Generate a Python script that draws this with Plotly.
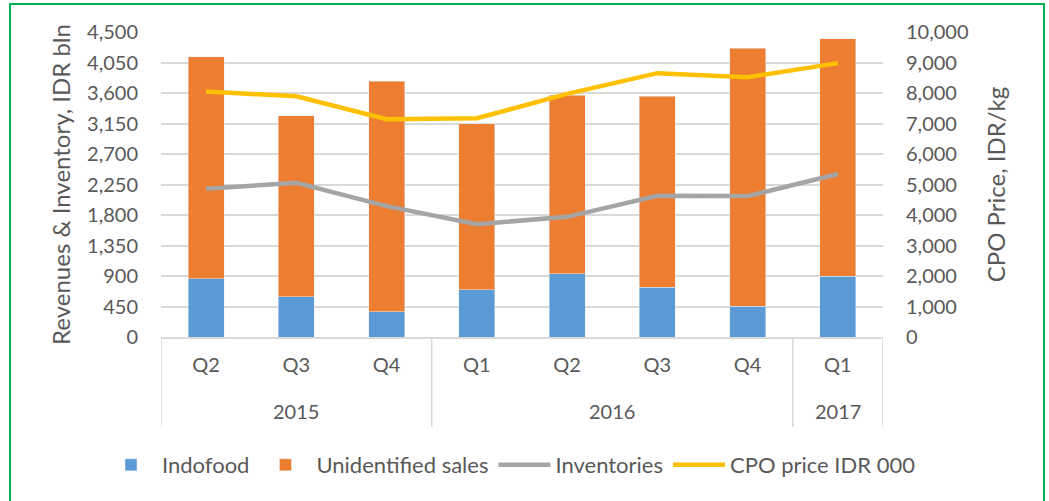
import plotly.graph_objects as go

years = ["2015", "2015", "2015", "2016", "2016", "2016", "2016", "2017"]
quarters = ["Q2", "Q3", "Q4", "Q1", "Q2", "Q3", "Q4", "Q1"]
indofood = [861, 595, 370, 698, 930, 733, 456, 900]
total_revenue = [4132, 3268, 3776, 3145, 3570, 3555, 4260, 4399]
unidentified = [t - i for t, i in zip(total_revenue, indofood)]
inventories = [2188, 2276, 1931, 1665, 1773, 2084, 2079, 2405]
cpo_price = [8047, 7895, 7139, 7172, 7971, 8651, 8520, 8980]

FONT = "Lato, Carlito, Calibri, sans-serif"
TXT = "#595959"
GRID = "#d9d9d9"
W, H = 1049, 501
ML, MR, MT, MB = 161, 166, 32, 164
pw = W - ML - MR
ph = H - MT - MB

labels = [f"{q} {y}" for q, y in zip(quarters, years)]

fig = go.Figure()
fig.add_trace(go.Bar(x=labels, y=indofood, name="Indofood", marker_color="#5B9BD5"))
fig.add_trace(go.Bar(x=labels, y=unidentified, name="Unidentified sales", marker_color="#ED7D31"))
fig.add_trace(go.Scatter(x=labels, y=inventories, name="Inventories", mode="lines",
                         line=dict(color="#A5A5A5", width=4.5)))
fig.add_trace(go.Scatter(x=labels, y=cpo_price, name="CPO price IDR 000", mode="lines",
                         line=dict(color="#FFC000", width=4.5), yaxis="y2"))

# year groups: dividers and centered year labels
groups = []
for i, y in enumerate(years):
    if groups and groups[-1][0] == y:
        groups[-1][2] = i
    else:
        groups.append([y, i, i])

def py(pix):  # pixel y from top -> paper y
    return (H - MB - pix) / ph

def px(pix):
    return (pix - ML) / pw

bounds = sorted({g[1] - 0.5 for g in groups} | {g[2] + 0.5 for g in groups})
for b in bounds:
    fig.add_shape(type="line", xref="x", yref="paper", x0=b, x1=b,
                  y0=0, y1=py(427), line=dict(color=GRID, width=1.5))
for y, a, b in groups:
    fig.add_annotation(x=(a + b) / 2, xref="x", y=py(411), yref="paper",
                       text=y, showarrow=False, yanchor="middle",
                       font=dict(size=20, color=TXT, family=FONT))

# green frame
fig.add_shape(type="rect", xref="paper", yref="paper",
              x0=px(10), x1=px(1044), y0=py(520), y1=py(4),
              line=dict(color="#00B050", width=2), fillcolor="rgba(0,0,0,0)", layer="below")

fig.update_layout(
    width=W, height=H,
    margin=dict(l=ML, r=MR, t=MT, b=MB),
    paper_bgcolor="white", plot_bgcolor="white",
    barmode="stack", bargap=0.6,
    font=dict(family=FONT, size=20, color=TXT),
    xaxis=dict(type="category", tickvals=labels, ticktext=quarters, showgrid=False,
               showline=True, linecolor=GRID, linewidth=1.5, ticks="",
               ticklabelstandoff=9,
               tickfont=dict(size=20, color=TXT), range=[-0.5, len(labels) - 0.5]),
    yaxis=dict(range=[0, 4500], dtick=450, tickformat=",", showgrid=True,
               gridcolor=GRID, gridwidth=1.5, zeroline=False, showline=False,
               ticks="", ticklabelstandoff=22, tickfont=dict(size=20, color=TXT),
               title=dict(text="Revenues & Inventory, IDR bln", font=dict(size=24, color=TXT),
                          standoff=9)),
    yaxis2=dict(range=[0, 10000], dtick=1000, tickformat=",", overlaying="y", side="right",
                showgrid=False, zeroline=False, showline=False, ticks="",
                ticklabelstandoff=22, tickfont=dict(size=20, color=TXT),
                title=dict(text="CPO Price, IDR/kg", font=dict(size=24, color=TXT), standoff=20)),
    legend=dict(orientation="h", xref="paper", x=px(100), xanchor="left",
                yref="paper", y=py(465), yanchor="middle",
                font=dict(size=22, color=TXT), itemwidth=52, traceorder="normal"),
    showlegend=True,
)

fig.write_html("out.html", config={"displayModeBar": False},
               post_script="document.body.style.margin='0';")
